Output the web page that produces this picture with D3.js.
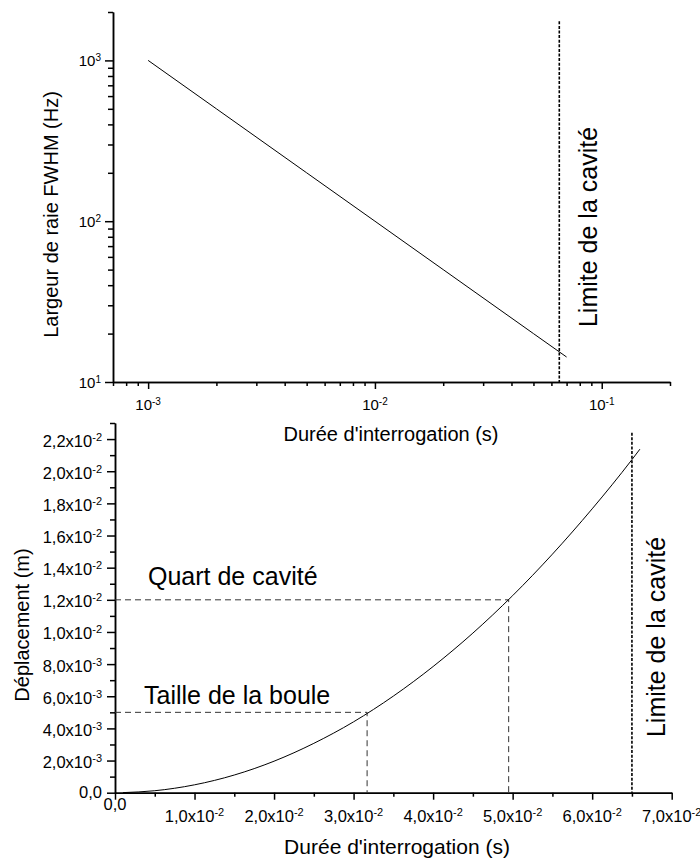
<!DOCTYPE html>
<html><head><meta charset="utf-8">
<script src="https://cdn.jsdelivr.net/npm/d3@7"></script>
<style>
body{margin:0;background:#fff}
text{font-family:"Liberation Sans",Arial,sans-serif;fill:#000}
</style>
</head><body><svg id="c" width="700" height="861"></svg>
<script>
// ---------- data ----------
const lwTimes = [0.001, 0.002, 0.005, 0.01, 0.02, 0.05, 0.07];
const lwFWHM = [1000, 500, 200, 100, 50, 20, 14.3];
const lwXMajor = [0.001, 0.01, 0.1];
const lwXLabels = ["10^-3", "10^-2", "10^-1"];
const lwYMajor = [10, 100, 1000];
const lwYLabels = ["10^1", "10^2", "10^3"];
const cavityLimit = 0.065;
const cavityLabel = "Limite de la cavité";

const dispTimes = [0.001, 0.005, 0.01, 0.015, 0.02, 0.025, 0.03, 0.035, 0.04, 0.045, 0.05, 0.055, 0.06, 0.065, 0.066];
const dispValues = [0.0000049, 0.000123, 0.00049, 0.0011, 0.00196, 0.00307, 0.00441, 0.00601, 0.00785, 0.00993, 0.01226, 0.01484, 0.01766, 0.02072, 0.02137];
const dispYTicks = [0, 0.002, 0.004, 0.006, 0.008, 0.010, 0.012, 0.014, 0.016, 0.018, 0.020, 0.022];
const dispYLabels = ["0,0", "2,0x10^-3", "4,0x10^-3", "6,0x10^-3", "8,0x10^-3", "1,0x10^-2", "1,2x10^-2", "1,4x10^-2", "1,6x10^-2", "1,8x10^-2", "2,0x10^-2", "2,2x10^-2"];
const dispXTicks = [0, 0.01, 0.02, 0.03, 0.04, 0.05, 0.06, 0.07];
const dispXLabels = ["0,0", "1,0x10^-2", "2,0x10^-2", "3,0x10^-2", "4,0x10^-2", "5,0x10^-2", "6,0x10^-2", "7,0x10^-2"];
const guideNames = ["Taille de la boule", "Quart de cavité"];
const guideLevels = [0.005, 0.012];
const guideTimes = [0.0317, 0.0495];

const topXTitle = "Durée d'interrogation (s)";
const topYTitle = "Largeur de raie FWHM (Hz)";
const botXTitle = "Durée d'interrogation (s)";
const botYTitle = "Déplacement (m)";

// ---------- drawing ----------
const svg = d3.select("#c");

function rich(sel, s, supSize, supShift) {
  const p = s.split("^");
  sel.append("tspan").text(p[0]);
  if (p[1]) sel.append("tspan").attr("font-size", supSize).attr("dy", -supShift).text(p[1]);
}
function styleAxis(g) {
  g.selectAll("path,line").attr("stroke", "#000").attr("stroke-width", 1.5);
  g.selectAll("text").remove();
}

// ===== Top chart (log-log) =====
const tx = d3.scaleLog().domain([7e-4, 0.2]).range([113, 670]);
const ty = d3.scaleLog().domain([10, 2000]).range([382, 12]);

const txMinor = tx.ticks().filter(v => !lwXMajor.some(m => Math.abs(m - v) / m < 1e-6));
const tyMinor = ty.ticks().filter(v => !lwYMajor.some(m => Math.abs(m - v) / m < 1e-6));

svg.append("g").attr("transform", "translate(0,382)")
  .call(d3.axisBottom(tx).tickValues(txMinor).tickSize(4).tickSizeOuter(0).tickFormat(""))
  .call(styleAxis);
svg.append("g").attr("transform", "translate(0,382)")
  .call(d3.axisBottom(tx).tickValues(lwXMajor).tickSize(7).tickSizeOuter(0).tickFormat(""))
  .call(styleAxis);
svg.append("g").attr("transform", "translate(113,0)")
  .call(d3.axisLeft(ty).tickValues(tyMinor).tickSize(5).tickSizeOuter(0).tickFormat(""))
  .call(styleAxis);
svg.append("g").attr("transform", "translate(113,0)")
  .call(d3.axisLeft(ty).tickValues(lwYMajor).tickSize(8).tickSizeOuter(0).tickFormat(""))
  .call(styleAxis);

svg.append("g").selectAll("text").data(lwXMajor).join("text")
  .attr("x", d => tx(d)).attr("y", 410).attr("text-anchor", "middle").attr("font-size", 15)
  .each(function (d, i) { rich(d3.select(this), lwXLabels[i], 10, 5.5); });
svg.append("g").selectAll("text").data(lwYMajor).join("text")
  .attr("x", 101).attr("y", d => ty(d) + 6).attr("text-anchor", "end").attr("font-size", 15)
  .each(function (d, i) { rich(d3.select(this), lwYLabels[i], 10, 5.5); });

svg.append("path")
  .datum(lwTimes.map((t, i) => [t, lwFWHM[i]]))
  .attr("d", d3.line().x(d => tx(d[0])).y(d => ty(d[1])))
  .attr("fill", "none").attr("stroke", "#000").attr("stroke-width", 1);

svg.append("line")
  .attr("x1", tx(cavityLimit)).attr("x2", tx(cavityLimit))
  .attr("y1", ty(1750)).attr("y2", ty(10))
  .attr("stroke", "#000").attr("stroke-width", 1.6).attr("stroke-dasharray", "3,1.6");

svg.append("text").attr("transform", `translate(597,227) rotate(-90)`)
  .attr("text-anchor", "middle").attr("font-size", 25).text(cavityLabel);

svg.append("text").attr("x", 391).attr("y", 441).attr("text-anchor", "middle").attr("font-size", 20).text(topXTitle);
svg.append("text").attr("transform", "translate(58,214.5) rotate(-90)")
  .attr("text-anchor", "middle").attr("font-size", 20).text(topYTitle);

// ===== Bottom chart (linear) =====
const bx = d3.scaleLinear().domain([0, 0.07]).range([115, 671.7]);
const by = d3.scaleLinear().domain([0, 0.023]).range([792.7, 423]);

const bxMinor = d3.range(0.005, 0.07, 0.01);
const byMinor = d3.range(0.001, 0.0235, 0.002);

svg.append("g").attr("transform", "translate(0,792.7)")
  .call(d3.axisBottom(bx).tickValues(bxMinor).tickSize(4).tickSizeOuter(0).tickFormat(""))
  .call(styleAxis);
svg.append("g").attr("transform", "translate(0,792.7)")
  .call(d3.axisBottom(bx).tickValues(dispXTicks).tickSize(7).tickSizeOuter(0).tickFormat(""))
  .call(styleAxis);
svg.append("g").attr("transform", "translate(115,0)")
  .call(d3.axisLeft(by).tickValues(byMinor).tickSize(5).tickSizeOuter(0).tickFormat(""))
  .call(styleAxis);
svg.append("g").attr("transform", "translate(115,0)")
  .call(d3.axisLeft(by).tickValues(dispYTicks).tickSize(8).tickSizeOuter(0).tickFormat(""))
  .call(styleAxis);

svg.append("g").selectAll("text").data(dispXTicks).join("text")
  .attr("x", d => bx(d)).attr("y", (d, i) => dispXLabels[i].includes("^") ? 822 : 810)
  .attr("text-anchor", "middle").attr("font-size", 16.5)
  .each(function (d, i) { rich(d3.select(this), dispXLabels[i], 11, 6); });
svg.append("g").selectAll("text").data(dispYTicks).join("text")
  .attr("x", 102).attr("y", (d, i) => by(d) + (dispYLabels[i].includes("^") ? 7.5 : 5.5))
  .attr("text-anchor", "end").attr("font-size", 16.5)
  .each(function (d, i) { rich(d3.select(this), dispYLabels[i], 11, 6); });

// guides
const guides = svg.append("g");
guideLevels.forEach((lv, i) => {
  guides.append("path")
    .attr("d", d3.line()([[bx(0), by(lv)], [bx(guideTimes[i]), by(lv)], [bx(guideTimes[i]), by(0)]]))
    .attr("fill", "none").attr("stroke", "#333").attr("stroke-width", 1).attr("stroke-dasharray", "6,4");
});
svg.append("text").attr("x", 144).attr("y", 704).attr("font-size", 25).text(guideNames[0]);
svg.append("text").attr("x", 148).attr("y", 585).attr("font-size", 25).text(guideNames[1]);

svg.append("path")
  .datum(dispTimes.map((t, i) => [t, dispValues[i]]))
  .attr("d", d3.line().x(d => bx(d[0])).y(d => by(d[1])).curve(d3.curveMonotoneX))
  .attr("fill", "none").attr("stroke", "#000").attr("stroke-width", 1);

svg.append("line")
  .attr("x1", bx(cavityLimit)).attr("x2", bx(cavityLimit))
  .attr("y1", by(0.0224)).attr("y2", by(0))
  .attr("stroke", "#000").attr("stroke-width", 1.6).attr("stroke-dasharray", "3,1.6");

svg.append("text").attr("transform", "translate(665,637) rotate(-90)")
  .attr("text-anchor", "middle").attr("font-size", 25).text(cavityLabel);

svg.append("text").attr("x", 397).attr("y", 854).attr("text-anchor", "middle").attr("font-size", 21).text(botXTitle);
svg.append("text").attr("transform", "translate(29,625) rotate(-90)")
  .attr("text-anchor", "middle").attr("font-size", 20).text(botYTitle);
</script>
</body></html>
